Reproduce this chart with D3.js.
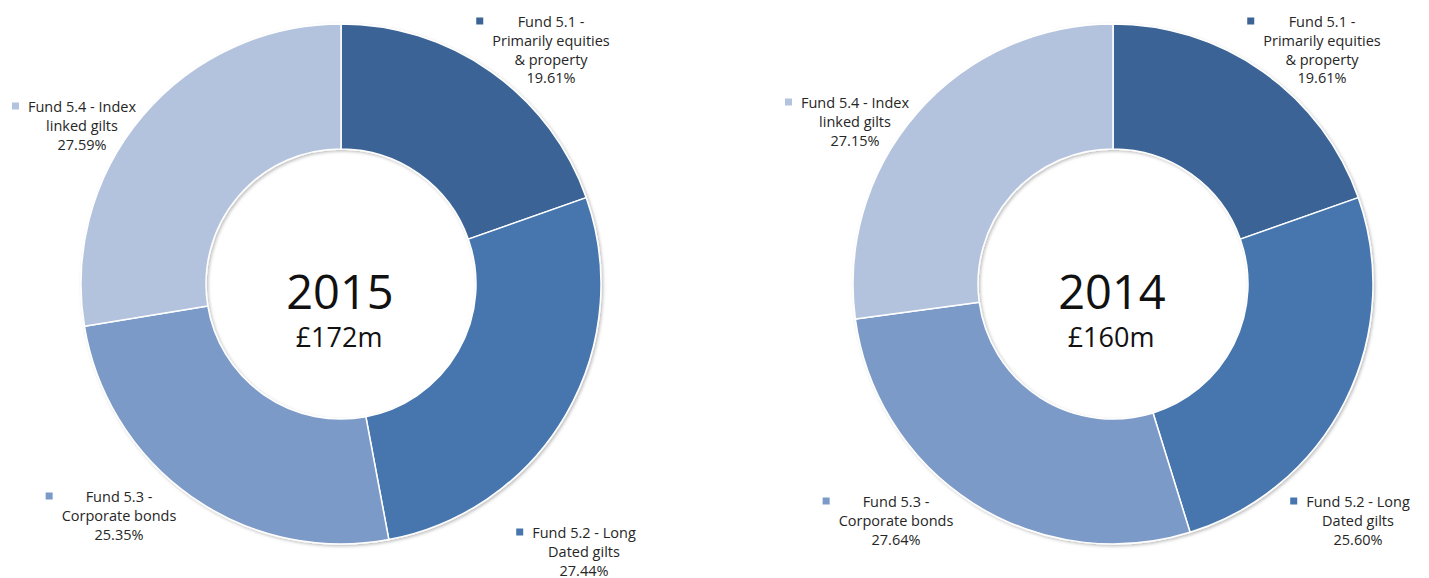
<!DOCTYPE html>
<html>
<head>
<meta charset="utf-8">
<script src="https://cdn.jsdelivr.net/npm/d3@7"></script>
<style>
  html, body { margin: 0; padding: 0; background: #ffffff; }
  svg { display: block; }
  text { font-family: "Open Sans", "Noto Sans", sans-serif; }
</style>
</head>
<body>
<script>
// Fund allocation data
const categories = [
  "Fund 5.1 - Primarily equities & property",
  "Fund 5.2 - Long Dated gilts",
  "Fund 5.3 - Corporate bonds",
  "Fund 5.4 - Index linked gilts"
];
const categoryLines = [
  ["Fund 5.1 -", "Primarily equities", "& property"],
  ["Fund 5.2 - Long", "Dated gilts"],
  ["Fund 5.3 -", "Corporate bonds"],
  ["Fund 5.4 - Index", "linked gilts"]
];
const years = ["2015", "2014"];
const totals = ["£172m", "£160m"];
const values2015 = [19.61, 27.44, 25.35, 27.59];
const values2014 = [19.61, 25.60, 27.64, 27.15];
const seriesValues = [values2015, values2014];

// Presentation
const colors = ["#3b6495", "#4776ae", "#7c9ac7", "#b4c3dd"];
const W = 1429, H = 578;
const centers = [[341, 284], [1113, 284]];
const outerR = 260, innerR = 135;
// label anchor offsets (centre of text block, first baseline) relative to donut centre
const labelOffsets = [
  [[210, -257], [243, 254], [-222, 218], [-259, -172]],
  [[209, -257], [245, 223], [-217, 223], [-258, -176]]
];
const lineStep = 18.8;

const svg = d3.select("body").append("svg")
  .attr("width", W).attr("height", H);

const defs = svg.append("defs");
const f = defs.append("filter").attr("id", "shade")
  .attr("x", "-10%").attr("y", "-10%").attr("width", "120%").attr("height", "120%");
f.append("feDropShadow").attr("dx", 1.5).attr("dy", 1.5)
  .attr("stdDeviation", 1.5).attr("flood-color", "#000").attr("flood-opacity", 0.25);

const color = d3.scaleOrdinal().domain(categories).range(colors);
const pie = d3.pie().sort(null).value(d => d);
const arc = d3.arc().innerRadius(innerR).outerRadius(outerR);

seriesValues.forEach((vals, ci) => {
  const [cx, cy] = centers[ci];
  const g = svg.append("g").attr("transform", `translate(${cx},${cy})`);

  g.append("g").attr("filter", "url(#shade)")
    .selectAll("path")
    .data(pie(vals))
    .join("path")
    .attr("d", arc)
    .attr("fill", (d, i) => color(categories[i]))
    .attr("stroke", "#ffffff")
    .attr("stroke-width", 1.5)
    .attr("stroke-linejoin", "round");

  // centre captions
  g.append("text")
    .attr("x", -1).attr("y", 25)
    .attr("text-anchor", "middle")
    .attr("font-size", 47)
    .attr("fill", "#111")
    .text(years[ci]);
  g.append("text")
    .attr("x", -2).attr("y", 63)
    .attr("text-anchor", "middle")
    .attr("font-size", 27)
    .attr("fill", "#111")
    .text(totals[ci]);

  // data labels
  vals.forEach((v, i) => {
    const [dx, dy] = labelOffsets[ci][i];
    const lg = g.append("g").attr("transform", `translate(${dx},${dy})`);
    const t = lg.append("text")
      .attr("text-anchor", "middle")
      .attr("font-size", 14.5)
      .attr("fill", "#262626");
    const lines = categoryLines[i].concat([v.toFixed(2) + "%"]);
    lines.forEach((ln, k) => {
      t.append("tspan").attr("x", 0).attr("y", k * lineStep).text(ln);
    });
    let maxW = 0;
    t.selectAll("tspan").each(function () {
      maxW = Math.max(maxW, this.getComputedTextLength());
    });
    lg.append("rect")
      .attr("x", -maxW / 2 - 16)
      .attr("y", -9.5)
      .attr("width", 7).attr("height", 7)
      .attr("fill", color(categories[i]));
  });
});
</script>
</body>
</html>
